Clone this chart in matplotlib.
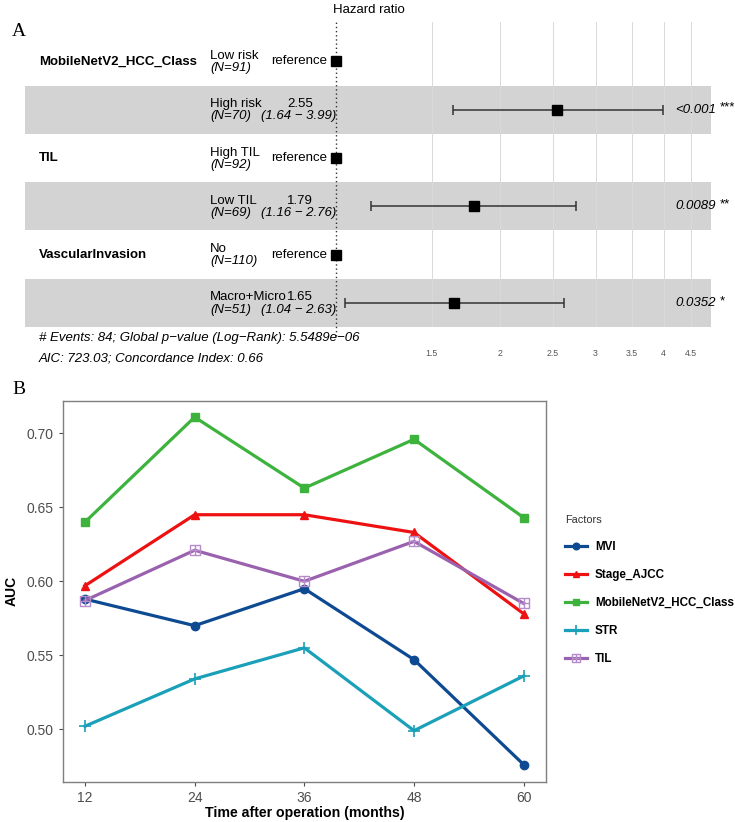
import matplotlib
matplotlib.use("Agg")
import matplotlib.pyplot as plt
from matplotlib.path import Path
import numpy as np

plt.rcParams['font.family'] = ['Liberation Sans', 'DejaVu Sans']

# ---- panel A data (Cox model forest plot)
variables = ["MobileNetV2_HCC_Class", "TIL", "VascularInvasion"]
ref_levels = ["Low risk", "High TIL", "No"]
ref_n = [91, 92, 110]
cmp_levels = ["High risk", "Low TIL", "Macro+Micro"]
cmp_n = [70, 69, 51]
hr = [2.55, 1.79, 1.65]
ci_low = [1.64, 1.16, 1.04]
ci_high = [3.99, 2.76, 2.63]
p_text = ["<0.001", "0.0089", "0.0352"]
p_stars = ["***", "**", "*"]
hr_ticks = [1.5, 2, 2.5, 3, 3.5, 4, 4.5]
footer = ["# Events: 84; Global p\u2212value (Log\u2212Rank): 5.5489e\u221206",
          "AIC: 723.03; Concordance Index: 0.66"]

# ---- panel B data (time-dependent AUC)
months = [12, 24, 36, 48, 60]
factors = ["MVI", "Stage_AJCC", "MobileNetV2_HCC_Class", "STR", "TIL"]
auc_mvi = [0.588, 0.570, 0.595, 0.547, 0.476]
auc_stage = [0.597, 0.645, 0.645, 0.633, 0.578]
auc_mobilenet = [0.640, 0.711, 0.663, 0.696, 0.643]
auc_str = [0.502, 0.534, 0.555, 0.499, 0.536]
auc_til = [0.587, 0.621, 0.600, 0.627, 0.585]

W, H = 735, 822
fig = plt.figure(figsize=(W / 100, H / 100), dpi=100)


def fx(x):
    return x / W


def fy(y):
    return 1 - y / H


# ================= Panel A =================
axA = fig.add_axes([fx(25), fy(327), fx(711) - fx(25), fy(22) - fy(327)])
axA.set_xscale('log')
axA.set_xlim(0.268, 4.89)
axA.set_ylim(5.5, -0.818)
for s in axA.spines.values():
    s.set_visible(False)

for i in range(3):
    axA.axhspan(2 * i + 0.5, 2 * i + 1.5, color='#D3D3D3', lw=0, zorder=0)

for t in hr_ticks:
    axA.axvline(t, color='#DADADA', lw=0.7, zorder=1)
axA.axvline(1, ymin=-0.028, ymax=1, color='#333333', ls=(0, (1, 2)), lw=1.0,
            zorder=2, clip_on=False)

axA.set_xticks(hr_ticks)
axA.set_xticklabels([f"{t:g}" for t in hr_ticks])
axA.xaxis.set_minor_locator(matplotlib.ticker.NullLocator())
axA.tick_params(axis='x', length=0, pad=16, labelsize=6.3, labelcolor='#555555')
axA.set_yticks([])

for i in range(3):
    yr = 2 * i
    yc = 2 * i + 1
    axA.plot([1], [yr], marker='s', ms=7, color='black', zorder=3)
    axA.errorbar([hr[i]], [yc], xerr=[[hr[i] - ci_low[i]], [ci_high[i] - hr[i]]],
                 fmt='s', ms=7, color='black', ecolor='#333333', elinewidth=1.1,
                 capsize=3.5, capthick=1.1, zorder=3)

row_c = [61.5 + 48.3 * k for k in range(6)]
fs = 9.5
for i in range(3):
    y0 = row_c[2 * i]
    y1 = row_c[2 * i + 1]
    fig.text(fx(39), fy(y0), variables[i], fontsize=fs, fontweight='bold',
             va='center', ha='left')
    fig.text(fx(210), fy(y0 - 5.5), ref_levels[i], fontsize=fs, va='center')
    fig.text(fx(210), fy(y0 + 6.5), f"(N={ref_n[i]})", fontsize=fs,
             style='italic', va='center')
    fig.text(fx(327), fy(y0), "reference", fontsize=fs, va='center', ha='right')

    fig.text(fx(210), fy(y1 - 5.5), cmp_levels[i], fontsize=fs, va='center')
    fig.text(fx(210), fy(y1 + 6.5), f"(N={cmp_n[i]})", fontsize=fs,
             style='italic', va='center')
    fig.text(fx(300), fy(y1 - 5.5), f"{hr[i]:.2f}", fontsize=fs, va='center',
             ha='center')
    fig.text(fx(299), fy(y1 + 6.5), f"({ci_low[i]:.2f} \u2212 {ci_high[i]:.2f})",
             fontsize=fs, style='italic', va='center', ha='center')
    fig.text(fx(716), fy(y1), p_text[i], fontsize=fs, style='italic',
             va='center', ha='right')
    fig.text(fx(720), fy(y1 - 2), p_stars[i], fontsize=fs, va='center',
             ha='left')

fig.text(fx(333), fy(10), "Hazard ratio", fontsize=fs, va='center', ha='left')
fig.text(fx(39), fy(338), footer[0], fontsize=fs, style='italic', va='center')
fig.text(fx(39), fy(358), footer[1], fontsize=fs, style='italic', va='center')
fig.text(fx(12), fy(31), "A", family='Liberation Serif', fontsize=14,
         va='center', ha='left')

# ================= Panel B =================
# square with a plus inside (ggplot shape 12)
sq_plus = Path([(-1, -1), (1, -1), (1, 1), (-1, 1), (-1, -1),
                (0, -1), (0, 1), (-1, 0), (1, 0)],
               [Path.MOVETO, Path.LINETO, Path.LINETO, Path.LINETO,
                Path.CLOSEPOLY, Path.MOVETO, Path.LINETO, Path.MOVETO,
                Path.LINETO])

axB = fig.add_axes([fx(63), fy(782), fx(545.7) - fx(63), fy(400.7) - fy(782)])
colors = ['#0E4A92', '#EE1111', '#3DB33D', '#1AA0B8', '#9A62AE']
series = [auc_mvi, auc_stage, auc_mobilenet, auc_str, auc_til]
markers = ['o', '^', 's', '+', sq_plus]
for name, vals, c, m in zip(factors, series, colors, markers):
    if name == "TIL":
        axB.plot(months, vals, color=c, lw=2.3, marker=m, ms=6.5,
                 mfc='none', mec='#B58CC8', mew=1.0, label=name)
    elif name == "STR":
        axB.plot(months, vals, color=c, lw=2.3, marker=m, ms=9, mew=1.2,
                 label=name)
    else:
        axB.plot(months, vals, color=c, lw=2.3, marker=m, ms=6, label=name)

axB.set_xlim(9.6, 62.4)
axB.set_ylim(0.4643, 0.7221)
axB.set_xticks(months)
axB.set_yticks([0.50, 0.55, 0.60, 0.65, 0.70])
axB.set_yticklabels([f"{v:.2f}" for v in [0.50, 0.55, 0.60, 0.65, 0.70]])
axB.tick_params(labelsize=10, labelcolor='#4D4D4D', color='#4D4D4D',
                length=3, width=0.8)
for s in axB.spines.values():
    s.set_color('#7F7F7F')
    s.set_linewidth(1.0)
axB.set_xlabel("Time after operation (months)", fontsize=10.2,
               fontweight='bold', labelpad=1)
axB.set_ylabel("AUC", fontsize=10, fontweight='bold', labelpad=6)

leg = axB.legend(loc='upper left', bbox_to_anchor=(fx(560), fy(510)),
                 bbox_transform=fig.transFigure, frameon=False, title="Factors",
                 fontsize=8.4, title_fontsize=7.9, handlelength=1.9,
                 handletextpad=0.7, markerscale=0.8,
                 labelspacing=1.38, alignment='left', borderaxespad=0)
leg._legend_handle_box.sep = 1
for t in leg.get_texts():
    t.set_fontweight('bold')
leg.get_title().set_color('#333333')

fig.text(fx(12), fy(389), "B", family='Liberation Serif', fontsize=14,
         va='center', ha='left')

fig.savefig("out.png", dpi=100)
